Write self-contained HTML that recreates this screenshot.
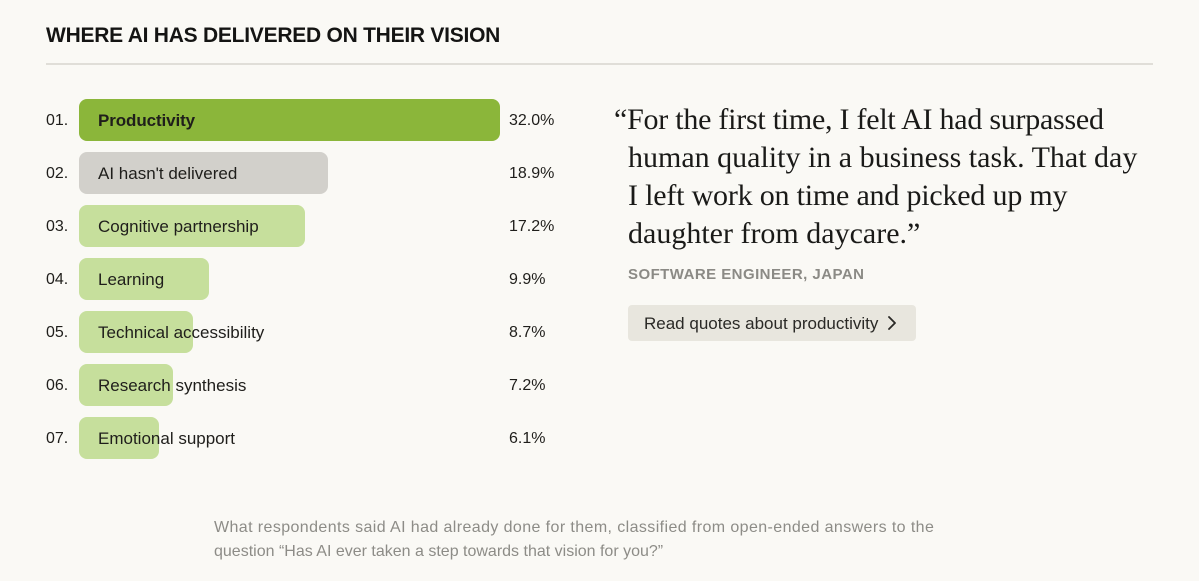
<!DOCTYPE html>
<html>
<head>
<meta charset="utf-8">
<style>
  html, body { margin:0; padding:0; }
  body { width:1199px; height:581px; background:#faf9f5; position:relative; overflow:hidden;
         font-family:"Liberation Sans", Arial, sans-serif; color:#1f1e1b; }
  .abs { position:absolute; white-space:nowrap; }
  .title { left:46px; top:25px; font-size:21px; line-height:21px; font-weight:bold; letter-spacing:-0.25px; color:#141413; }
  .rule { left:46px; top:63px; width:1107px; height:2px; background:#e0ded8; }
  .num { left:46px; font-size:16px; line-height:42px; height:42px; color:#1f1e1b; margin-top:1px; }
  .bar { left:79px; height:42px; border-radius:8px; }
  .lbl { left:98px; font-size:17px; line-height:42px; height:42px; color:#1f1e1b; margin-top:1px; }
  .pct { left:509px; font-size:16px; line-height:42px; height:42px; color:#1f1e1b; margin-top:1px; }
  .quote { left:628px; top:101px; width:540px; font-family:"Liberation Serif", "Times New Roman", serif;
           font-size:30px; line-height:38px; text-indent:-14px; color:#1a1a18; white-space:normal; }
  .attr { left:628px; top:266px; font-size:15px; line-height:18px; font-weight:bold; letter-spacing:0.45px; color:#8b8a85; }
  .btn { left:628px; top:305px; width:288px; height:36px; background:#e8e6de; border-radius:4px; }
  .btntxt { left:644px; top:306px; font-size:17px; line-height:36px; color:#2a2926; }
  .caption { left:214px; top:516px; font-size:16px; line-height:24px; color:#8d8c87; white-space:normal; width:800px; }
</style>
</head>
<body>
  <div class="abs title">WHERE AI HAS DELIVERED ON THEIR VISION</div>
  <div class="abs rule"></div>

  <!-- row 1 -->
  <div class="abs bar" style="top:99px;width:421px;background:#8bb63a;"></div>
  <div class="abs num" style="top:99px;">01.</div>
  <div class="abs lbl" style="top:99px;font-weight:bold;letter-spacing:-0.1px;">Productivity</div>
  <div class="abs pct" style="top:99px;">32.0%</div>

  <!-- row 2 -->
  <div class="abs bar" style="top:152px;width:249px;background:#d2d0cb;"></div>
  <div class="abs num" style="top:152px;">02.</div>
  <div class="abs lbl" style="top:152px;">AI hasn't delivered</div>
  <div class="abs pct" style="top:152px;">18.9%</div>

  <!-- row 3 -->
  <div class="abs bar" style="top:205px;width:226px;background:#c6df9c;"></div>
  <div class="abs num" style="top:205px;">03.</div>
  <div class="abs lbl" style="top:205px;">Cognitive partnership</div>
  <div class="abs pct" style="top:205px;">17.2%</div>

  <!-- row 4 -->
  <div class="abs bar" style="top:258px;width:130px;background:#c6df9c;"></div>
  <div class="abs num" style="top:258px;">04.</div>
  <div class="abs lbl" style="top:258px;">Learning</div>
  <div class="abs pct" style="top:258px;">9.9%</div>

  <!-- row 5 -->
  <div class="abs bar" style="top:311px;width:114px;background:#c6df9c;"></div>
  <div class="abs num" style="top:311px;">05.</div>
  <div class="abs lbl" style="top:311px;">Technical accessibility</div>
  <div class="abs pct" style="top:311px;">8.7%</div>

  <!-- row 6 -->
  <div class="abs bar" style="top:364px;width:94px;background:#c6df9c;"></div>
  <div class="abs num" style="top:364px;">06.</div>
  <div class="abs lbl" style="top:364px;">Research synthesis</div>
  <div class="abs pct" style="top:364px;">7.2%</div>

  <!-- row 7 -->
  <div class="abs bar" style="top:417px;width:80px;background:#c6df9c;"></div>
  <div class="abs num" style="top:417px;">07.</div>
  <div class="abs lbl" style="top:417px;">Emotional support</div>
  <div class="abs pct" style="top:417px;">6.1%</div>

  <!-- quote -->
  <div class="abs quote"><span style="letter-spacing:-0.25px;">“For the first time, I felt AI had surpassed</span><br>human quality in a business task. That day<br><span style="letter-spacing:-0.2px;">I left work on time and picked up my</span><br>daughter from daycare.”</div>
  <div class="abs attr">SOFTWARE ENGINEER, JAPAN</div>
  <div class="abs btn"></div>
  <div class="abs btntxt">Read quotes about productivity</div>
  <svg class="abs" style="left:886px;top:315px;" width="12" height="16" viewBox="0 0 12 16">
    <path d="M3 2 L9 8 L3 14" fill="none" stroke="#2a2926" stroke-width="1.8" stroke-linecap="round" stroke-linejoin="round"/>
  </svg>

  <div class="abs caption"><span style="letter-spacing:0.4px;">What respondents said AI had already done for them, classified from open-ended answers to the</span><br>question “Has AI ever taken a step towards that vision for you?”</div>
</body>
</html>
